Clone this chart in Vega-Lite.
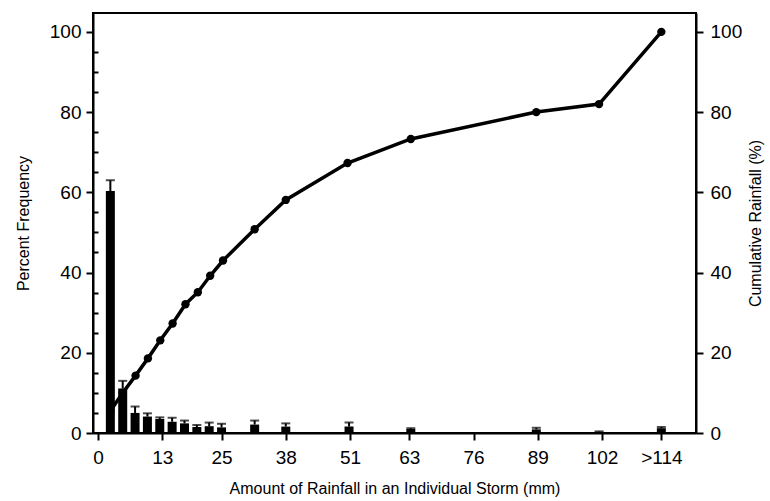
{
  "$schema": "https://vega.github.io/schema/vega-lite/v6.json",
  "width": 603,
  "height": 420,
  "autosize": {"type": "none"},
  "padding": {"left": 93, "top": 13, "right": 74, "bottom": 68},
  "background": "white",
  "config": {
    "view": {"stroke": "black", "strokeWidth": 2},
    "axis": {
      "grid": false,
      "domainColor": "black",
      "domainWidth": 2,
      "tickColor": "black",
      "tickWidth": 2,
      "tickSize": 7,
      "labelFont": "Liberation Sans",
      "labelFontSize": 19,
      "labelColor": "black",
      "titleFont": "Liberation Sans",
      "titleFontSize": 16,
      "titleFontWeight": "normal",
      "titleColor": "black"
    }
  },
  "datasets": {
    "bars": [
      {"mm": 2.5, "freq": 60.3, "err": 63},
      {"mm": 5, "freq": 11.1, "err": 13},
      {"mm": 7.5, "freq": 5, "err": 6.6},
      {"mm": 10, "freq": 4.1, "err": 4.9},
      {"mm": 12.5, "freq": 3.5, "err": 3.9},
      {"mm": 15, "freq": 2.8, "err": 3.8},
      {"mm": 17.5, "freq": 2.4, "err": 3.1},
      {"mm": 20, "freq": 1.5, "err": 2.0},
      {"mm": 22.5, "freq": 1.7, "err": 2.6},
      {"mm": 25, "freq": 1.4, "err": 2.3},
      {"mm": 31.7, "freq": 2.1, "err": 3.1},
      {"mm": 38, "freq": 1.6, "err": 2.4},
      {"mm": 50.8, "freq": 1.6, "err": 2.6},
      {"mm": 63.3, "freq": 1.0, "err": 1.2},
      {"mm": 88.7, "freq": 0.9, "err": 1.3},
      {"mm": 101.4, "freq": 0.3, "err": 0.4},
      {"mm": 114, "freq": 1.2, "err": 1.5}
    ],
    "cum": [
      {"mm": 2.5, "cum": 5.5},
      {"mm": 5, "cum": 10},
      {"mm": 7.6, "cum": 14.3},
      {"mm": 10.1, "cum": 18.6},
      {"mm": 12.6, "cum": 23.1},
      {"mm": 15.1, "cum": 27.3},
      {"mm": 17.7, "cum": 32.1},
      {"mm": 20.2, "cum": 35.1},
      {"mm": 22.7, "cum": 39.2},
      {"mm": 25.3, "cum": 43},
      {"mm": 31.7, "cum": 50.8},
      {"mm": 38, "cum": 58.1},
      {"mm": 50.5, "cum": 67.3},
      {"mm": 63.3, "cum": 73.3},
      {"mm": 88.7, "cum": 80},
      {"mm": 101.4, "cum": 82},
      {"mm": 114, "cum": 100}
    ]
  },
  "encoding": {
    "x": {
      "field": "mm",
      "type": "quantitative",
      "scale": {"domain": [0, 120], "nice": false, "zero": true},
      "axis": {
        "values": [0, 13, 25, 38, 51, 63, 76, 89, 102, 114],
        "labelExpr": "datum.value == 114 ? '>114' : datum.label",
        "labelPadding": 8,
        "title": "Amount of Rainfall in an Individual Storm (mm)",
        "titlePadding": 13
      }
    }
  },
  "layer": [
    {
      "data": {"name": "bars"},
      "mark": {"type": "bar", "size": 9, "color": "black"},
      "encoding": {
        "y": {
          "field": "freq",
          "type": "quantitative",
          "scale": {"domain": [0, 104.7], "nice": false},
          "axis": {
            "orient": "left",
            "values": [0, 20, 40, 60, 80, 100],
            "title": "Percent Frequency",
            "labelPadding": 5,
            "titlePadding": 18
          }
        }
      }
    },
    {
      "data": {"name": "bars"},
      "layer": [
        {
          "mark": {"type": "rule", "color": "black", "strokeWidth": 2},
          "encoding": {
            "y": {
              "field": "freq",
              "type": "quantitative",
              "scale": {"domain": [0, 104.7], "nice": false},
              "axis": {
                "orient": "left",
                "values": [5, 10, 15, 25, 30, 35, 45, 50, 55, 65, 70, 75, 85, 90, 95],
                "tickSize": -5,
                "labels": false,
                "domain": false,
                "title": null
              }
            },
            "y2": {"field": "err"}
          }
        },
        {
          "mark": {"type": "tick", "orient": "horizontal", "color": "black", "thickness": 2, "size": 9},
          "encoding": {
            "y": {
              "field": "err",
              "type": "quantitative",
              "scale": {"domain": [0, 104.7], "nice": false},
              "axis": {
                "orient": "left",
                "values": [5, 10, 15, 25, 30, 35, 45, 50, 55, 65, 70, 75, 85, 90, 95],
                "tickSize": -5,
                "labels": false,
                "domain": false,
                "title": null
              }
            }
          }
        }
      ]
    },
    {
      "data": {"name": "cum"},
      "encoding": {
        "y": {
          "field": "cum",
          "type": "quantitative",
          "scale": {"domain": [0, 104.7], "nice": false},
          "axis": {
            "orient": "right",
            "values": [0, 20, 40, 60, 80, 100],
            "title": "Cumulative Rainfall (%)",
            "titleAngle": -90,
            "titleBaseline": "bottom",
            "labelPadding": 7,
            "titlePadding": 22
          }
        }
      },
      "layer": [
        {"mark": {"type": "line", "color": "black", "strokeWidth": 3.5}},
        {"mark": {"type": "point", "filled": true, "color": "black", "opacity": 1, "size": 70}}
      ]
    }
  ],
  "resolve": {"scale": {"y": "independent"}}
}
